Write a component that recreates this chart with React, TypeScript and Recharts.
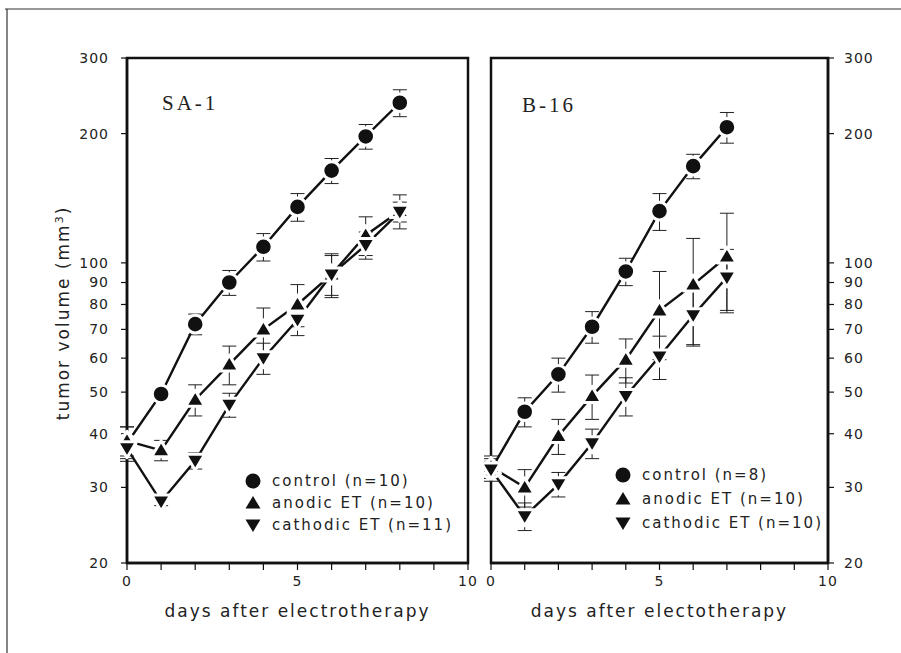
import { ErrorBar, Line, LineChart, ReferenceArea, XAxis, YAxis } from 'recharts'

// SA-1 panel
const saDays = [0, 1, 2, 3, 4, 5, 6, 7, 8]
const saControl = [38, 49.5, 72, 90, 109, 135, 164, 197, 236]
const saControlErr = [3.5, 1.5, 4, 6, 8, 10, 11, 13, 17]
const saAnodic = [38.5, 36.6, 48, 58, 70, 80, 94, 116, 132]
const saAnodicErr = [3, 2, 4, 6, 8.5, 9, 11, 12, 12]
const saCathodic = [37, 27.8, 34.6, 46.7, 60, 73.7, 94, 110, 131.5]
const saCathodicErr = [2, 0.6, 1.5, 3, 5, 6, 10, 8, 7]

// B-16 panel
const bDays = [0, 1, 2, 3, 4, 5, 6, 7]
const bControl = [33, 45, 55, 71, 95.5, 132, 168, 207]
const bControlErr = [2, 3.5, 5, 6, 7, 13, 11, 17]
const bAnodic = [33.5, 30, 39.5, 49, 59.5, 77.5, 89, 103.5]
const bAnodicErr = [2, 3, 3.7, 5.8, 7, 18, 25, 27]
const bCathodic = [33, 25.7, 30.5, 38, 49, 60.5, 75.5, 92.5]
const bCathodicErr = [1.5, 1.9, 2, 3, 5, 7, 11, 15]

const yTicks = [20, 30, 40, 50, 60, 70, 80, 90, 100, 200, 300]
const xTicks = [0, 1, 2, 3, 4, 5, 6, 7, 8, 9, 10]

const saLegend = ['control (n=10)', 'anodic ET (n=10)', 'cathodic ET (n=11)']
const bLegend = ['control (n=8)', 'anodic ET (n=10)', 'cathodic ET (n=10)']

const ink = '#111'
const tickFont = { fontSize: 14, fill: '#222', fontFamily: 'DejaVu Sans', letterSpacing: 1 }
const labelFont = { fontFamily: 'DejaVu Sans', fill: '#222' }

const saData = saDays.map((d, i) => ({
  day: d,
  control: saControl[i], controlErr: saControlErr[i],
  anodic: saAnodic[i], anodicErr: saAnodicErr[i],
  cathodic: saCathodic[i], cathodicErr: saCathodicErr[i],
}))
const bData = bDays.map((d, i) => ({
  day: d,
  control: bControl[i], controlErr: bControlErr[i],
  anodic: bAnodic[i], anodicErr: bAnodicErr[i],
  cathodic: bCathodic[i], cathodicErr: bCathodicErr[i],
}))

function circleDot(p: any) {
  return <circle key={`c${p.index}`} cx={p.cx} cy={p.cy} r={8.8} fill={ink} stroke="#fff" strokeWidth={3} />
}
function upDot(p: any) {
  const { cx, cy } = p
  return (
    <polygon key={`u${p.index}`} points={`${cx},${cy - 9.5} ${cx - 9.5},${cy + 6.5} ${cx + 9.5},${cy + 6.5}`}
      fill={ink} stroke="#fff" strokeWidth={3} strokeLinejoin="round" />
  )
}
function downDot(p: any) {
  const { cx, cy } = p
  return (
    <polygon key={`d${p.index}`} points={`${cx},${cy + 9.5} ${cx - 9.5},${cy - 6.5} ${cx + 9.5},${cy - 6.5}`}
      fill={ink} stroke="#fff" strokeWidth={3} strokeLinejoin="round" />
  )
}

function Panel({ data, side, xTitle }: { data: any[]; side: 'left' | 'right'; xTitle: string }) {
  const margin = side === 'left'
    ? { top: 58, left: 67, right: 433, bottom: 32 }
    : { top: 58, left: 491, right: 13, bottom: 32 }
  return (
    <div style={{ position: 'absolute', left: 0, top: 0 }}>
      <LineChart width={901} height={653} data={data} margin={margin}>
        <XAxis dataKey="day" type="number" domain={[0, 10]} ticks={xTicks} height={58} interval={0}
          tickFormatter={(v) => (v % 5 === 0 ? String(v) : '')}
          tick={tickFont} tickSize={7} tickMargin={6}
          axisLine={{ stroke: ink, strokeWidth: 2.5 }} tickLine={{ stroke: ink, strokeWidth: 1.2 }}
          label={{ value: xTitle, position: 'insideBottom', offset: 4,
            style: { ...labelFont, fontSize: 17, letterSpacing: 2 } }} />
        <YAxis scale="log" domain={[20, 300]} ticks={yTicks} allowDataOverflow width={60} interval={0}
          orientation={side} tick={tickFont} tickSize={6} tickMargin={side === 'left' ? 12 : 10}
          axisLine={{ stroke: ink, strokeWidth: 2.5 }} tickLine={{ stroke: ink, strokeWidth: 1.2 }} />
        <ReferenceArea x1={0} x2={10} y1={20} y2={300} fill="none" stroke={ink} strokeWidth={2.5} />
        <Line type="linear" dataKey="control" stroke={ink} strokeWidth={2.4} dot={circleDot} isAnimationActive={false}>
          <ErrorBar dataKey="controlErr" direction="y" width={7} stroke="#222" strokeWidth={1} />
        </Line>
        <Line type="linear" dataKey="anodic" stroke={ink} strokeWidth={2.4} dot={upDot} isAnimationActive={false}>
          <ErrorBar dataKey="anodicErr" direction="y" width={7} stroke="#222" strokeWidth={1} />
        </Line>
        <Line type="linear" dataKey="cathodic" stroke={ink} strokeWidth={2.4} dot={downDot} isAnimationActive={false}>
          <ErrorBar dataKey="cathodicErr" direction="y" width={7} stroke="#222" strokeWidth={1} />
        </Line>
      </LineChart>
    </div>
  )
}

function LegendMarker({ kind, x, y }: { kind: number; x: number; y: number }) {
  if (kind === 0) return <circle cx={x} cy={y} r={7.5} fill={ink} />
  if (kind === 1) return <polygon points={`${x},${y - 7} ${x - 7.5},${y + 5.5} ${x + 7.5},${y + 5.5}`} fill={ink} />
  return <polygon points={`${x},${y + 7} ${x - 7.5},${y - 5.5} ${x + 7.5},${y - 5.5}`} fill={ink} />
}

function Legend({ items, x, y, gap }: { items: string[]; x: number; y: number; gap: number }) {
  return (
    <g>
      {items.map((t, i) => (
        <g key={t}>
          <LegendMarker kind={i} x={x} y={y + i * gap} />
          <text x={x + 19} y={y + i * gap} dominantBaseline="central" fontSize={15} letterSpacing={2} {...labelFont}>{t}</text>
        </g>
      ))}
    </g>
  )
}

export default function App() {
  return (
    <div style={{ position: 'absolute', left: 0, top: 0, width: 901, height: 653, background: '#fff' }}>
      <Panel data={saData} side="left" xTitle="days after electrotherapy" />
      <Panel data={bData} side="right" xTitle="days after electotherapy" />
      <svg width={901} height={653} style={{ position: 'absolute', left: 0, top: 0, pointerEvents: 'none' }}>
        <line x1={5} y1={9} x2={901} y2={9} stroke="#333" strokeWidth={1.2} />
        <line x1={7} y1={9} x2={7} y2={653} stroke="#333" strokeWidth={1.2} />
        <text x={162} y={110} fontFamily="Liberation Serif" fontSize={21} letterSpacing={3} fill="#222">SA-1</text>
        <text x={522} y={112} fontFamily="Liberation Serif" fontSize={21} letterSpacing={3} fill="#222">B-16</text>
        <text transform="translate(69,313) rotate(-90)" textAnchor="middle" fontSize={17} letterSpacing={2} {...labelFont}>
          tumor volume (mm<tspan dy={-6} fontSize={11}>3</tspan><tspan dy={6}>)</tspan>
        </text>
        <Legend items={saLegend} x={253} y={481} gap={22} />
        <Legend items={bLegend} x={623} y={475} gap={24} />
      </svg>
    </div>
  )
}
